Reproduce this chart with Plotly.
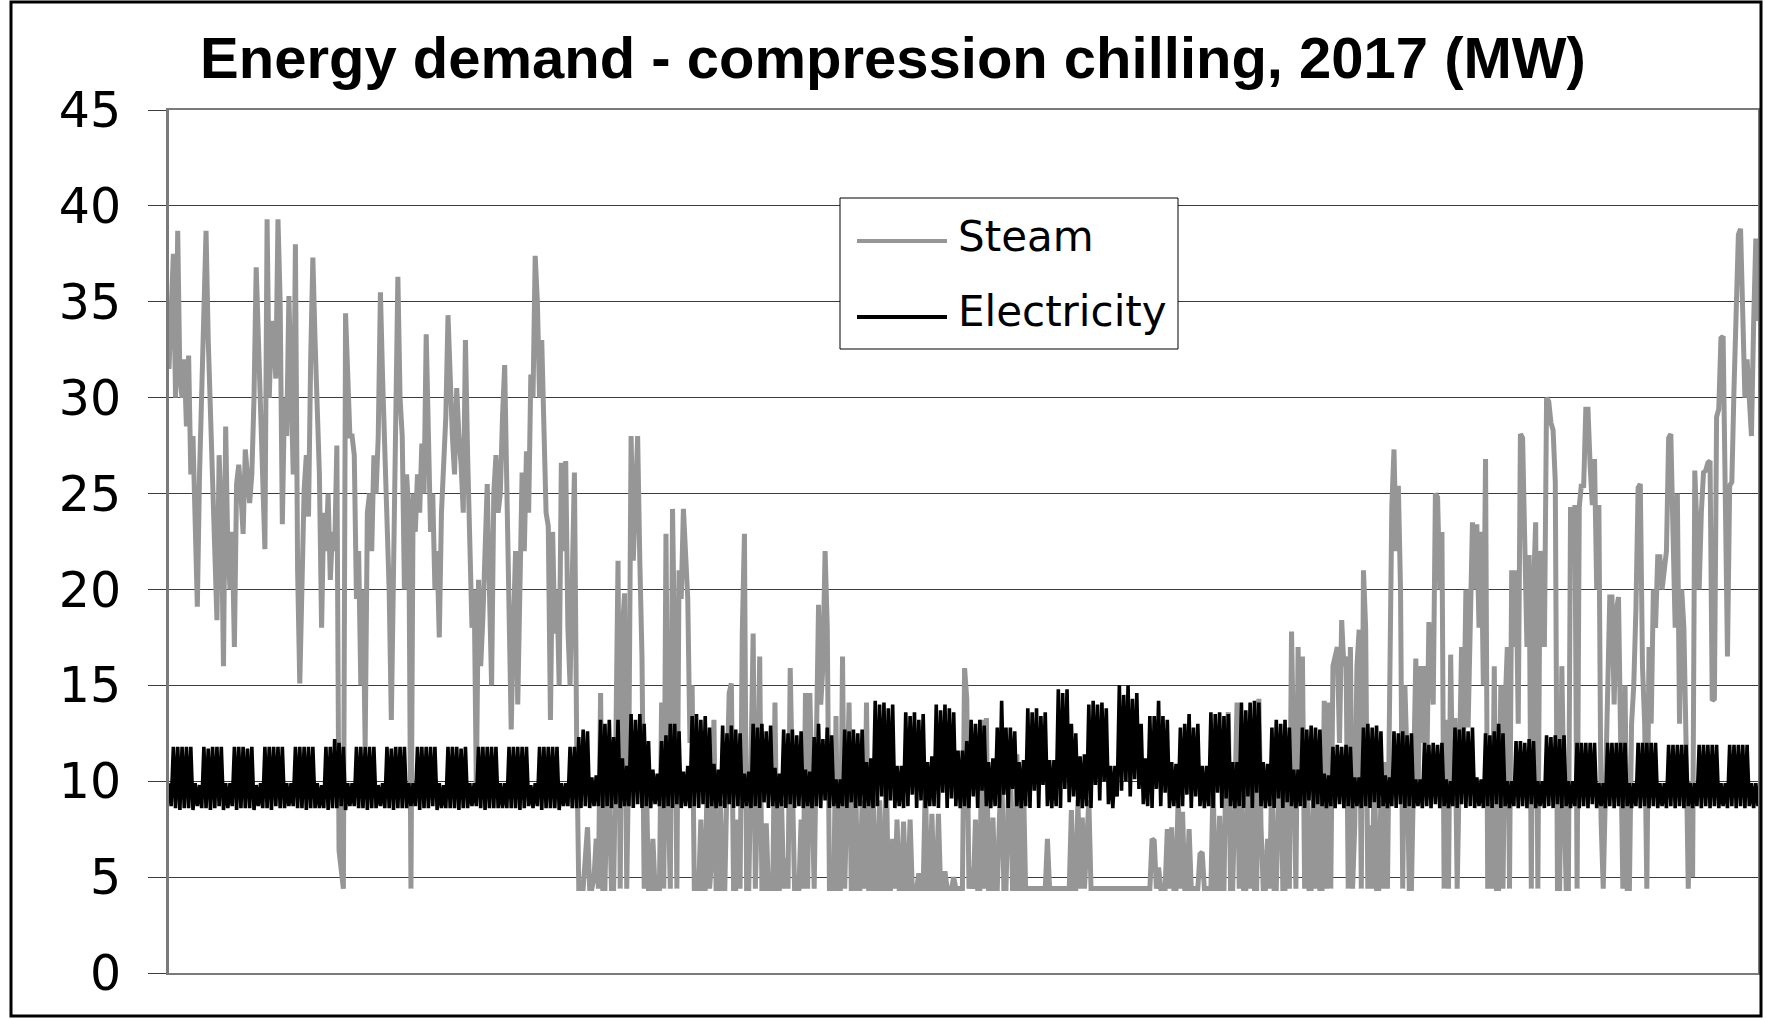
import plotly.graph_objects as go

# Half-daily samples (two per day), one line per week starting on Sunday 1 Jan 2017.
steam_q1 = [
    31.5, 35, 37.5, 30, 38.7, 31, 30, 32, 28.5, 32.2, 26, 28, 24.5, 19.1,
    26, 30.5, 33, 38.7, 33, 29, 25, 21, 18.4, 27, 24, 16, 28.5, 22,
    20, 23, 17, 25.5, 26.5, 25, 22.9, 27.3, 26, 24.5, 26, 30, 36.8, 33,
    30, 27, 22.1, 39.3, 30, 34, 33, 31, 39.3, 35, 23.4, 30, 28, 35.3,
    30, 26, 38, 21, 15.1, 22, 25.2, 27, 23.8, 32, 37.3, 33, 30, 26,
    18, 24, 22, 25, 20.5, 23, 22, 27.5, 6.4, 5.5, 4.4, 34.4, 30, 28,
    28, 27, 19.5, 22, 15, 20, 11.8, 24, 25, 22, 27, 25, 28, 35.5,
    31, 27, 25, 20, 13.2, 22, 29, 36.3, 30, 28, 20, 26, 24, 4.4,
    25, 23, 26, 24, 27.6, 25, 33.3, 28, 23, 25, 20, 22, 17.5, 24,
    26.5, 29, 34.3, 30, 28, 26, 30.5, 28, 26.5, 24, 33, 27, 21.5, 18,
    20, 9.6, 20.5, 16, 18.5, 22, 25.5, 20, 15, 25, 27, 24, 25, 29,
    31.7, 25.3, 20, 12.7, 18, 22, 14, 20, 26.1, 22, 27.2, 24, 31.2, 30,
    37.4, 35, 30, 33, 28, 24, 23.3, 13.2, 23, 17.7, 20, 15, 26.6, 22,
]
steam_q2 = [
    26.7, 18, 15, 20, 26.1, 12.5, 4.4, 4.4, 4.4, 6, 7.6, 4.4, 4.4, 5,
    7, 4.4, 14.6, 4.4, 4.4, 10, 9, 4.4, 4.4, 12, 21.5, 4.4, 17.9, 19.8,
    4.4, 12, 28, 21.5, 26, 28, 21.5, 16.5, 4.4, 10, 4.4, 4.4, 7, 4.4,
    4.4, 4.4, 14.1, 4.4, 22.9, 9, 4.4, 24.2, 16.5, 4.4, 21, 19.5, 24.2, 21,
    19.5, 12, 15, 4.4, 4.4, 4.4, 8, 4.4, 4.4, 11, 4.4, 6, 13.2, 4.4,
    4.4, 9, 4.4, 4.4, 10, 14.6, 15.1, 4.4, 4.4, 8, 4.4, 17.7, 22.9, 4.4,
    4.4, 10, 17.7, 4.4, 9, 16.5, 4.4, 4.4, 7.8, 4.4, 4.4, 4.4, 14.1, 4.4,
    4.4, 9, 4.4, 6, 4.4, 15.9, 10, 4.4, 4.4, 4.4, 8, 4.4, 14.6, 4.4,
    14.6, 9, 4.4, 12, 19.2, 14, 16, 22, 18, 4.4, 4.4, 4.4, 13.4, 4.4,
    4.4, 16.5, 4.4, 9, 14.1, 4.4, 4.4, 10, 4.4, 4.4, 9, 4.4, 14.1, 4.4,
    4.4, 10, 4.4, 4.4, 9, 4.4, 4.4, 11, 4.4, 4.4, 7, 4.4, 8, 4.4,
    4.4, 7.9, 4.4, 4.4, 8, 4.4, 4.4, 4.4, 5.2, 4.4, 4.4, 10, 4.4, 4.4,
    8.3, 4.4, 4.4, 8.3, 4.4, 4.4, 5.3, 4.4, 4.4, 4.4, 5, 4.4, 4.4, 4.4,
]
steam_q3 = [
    4.4, 15.9, 14.3, 4.4, 5.5, 4.4, 8, 4.4, 4.4, 13.2, 4.4, 13.3, 4.4, 4.4,
    8.1, 4.4, 4.4, 8.1, 11.3, 4.4, 4.4, 9, 10.5, 4.4, 4.4, 11.4, 4.4, 4.4,
    10, 4.4, 4.4, 4.4, 4.4, 4.4, 4.4, 4.4, 4.4, 4.4, 4.4, 7, 4.4, 4.4,
    4.4, 4.4, 4.4, 4.4, 4.4, 4.4, 4.4, 4.4, 8.5, 4.4, 4.4, 9, 4.4, 8.1,
    4.4, 7.6, 9, 4.4, 4.4, 4.4, 4.4, 4.4, 4.4, 4.4, 4.4, 4.4, 4.4, 4.4,
    4.4, 4.4, 4.4, 4.4, 4.4, 4.4, 4.4, 4.4, 4.4, 4.4, 4.4, 4.4, 4.4, 4.4,
    4.4, 4.4, 4.4, 7, 6.9, 4.4, 5.5, 4.4, 4.4, 4.4, 7.5, 4.4, 7.6, 4.4,
    4.4, 9.3, 4.4, 8.4, 4.4, 4.4, 7.5, 4.4, 4.4, 4.4, 4.4, 6.2, 6.3, 4.4,
    4.4, 4.4, 4.4, 10, 4.4, 4.4, 8.2, 4.4, 4.4, 12, 13.6, 4.4, 4.4, 9,
    14.1, 4.4, 11, 4.4, 4.4, 10, 4.4, 12.5, 4.4, 4.4, 14.3, 7.6, 4.4, 4.4,
    7, 4.4, 10.9, 4.4, 4.4, 9, 12, 4.4, 4.4, 10.9, 4.4, 17.8, 12, 4.4,
    17, 10, 16.5, 4.4, 12, 4.4, 4.4, 9, 4.4, 10, 4.4, 4.4, 14.2, 4.4,
    14.1, 4.4, 16, 16.5, 17, 12, 18.4, 16, 16.5, 4.4, 17, 4.4, 7.7, 16,
]
steam_q4 = [
    17.9, 4.4, 21, 18, 4.4, 7.7, 4.4, 11, 4.4, 4.4, 9, 4.4, 11, 4.4,
    16, 24.3, 27.3, 22, 25.4, 20, 4.4, 15, 11, 4.4, 4.4, 12, 16.4, 9,
    16, 12, 16, 10, 18.3, 16, 14, 25, 24.8, 20, 23, 4.4, 13.2, 4.4,
    16.6, 9, 13.3, 4.4, 12, 17, 12.7, 20, 12.8, 17.1, 23.5, 20, 23.4, 18,
    23, 15, 26.8, 4.4, 10, 4.4, 16, 4.4, 4.4, 15, 4.4, 14, 17, 4.4,
    21, 17, 21, 13, 28.1, 27.9, 22, 17, 21.8, 4.4, 20, 23.5, 4.4, 22,
    21, 17, 30, 29.8, 28.7, 28.3, 25.6, 4.4, 4.4, 16, 9, 4.4, 4.4, 24.3,
    22, 24.4, 4.4, 24.3, 25.5, 25.3, 29.4, 29.4, 26.4, 24.4, 26.8, 20, 24.4, 8,
    4.4, 10, 15, 19.6, 19.6, 14, 18.9, 19.6, 12, 4.4, 15, 4.4, 4.4, 13,
    15, 19, 25.3, 25.5, 16, 13, 4.4, 17, 13, 20, 18, 21.7, 21.7, 20,
    21, 22, 27.9, 28.1, 23, 18, 25, 13, 20, 18, 12, 4.4, 10, 5,
    26.2, 22, 20, 24, 26.1, 26.2, 26.6, 26.7, 14.2, 14.3, 29, 29.4, 33.1, 33.2,
    22, 16.5, 25.4, 25.6, 30.5, 33.7, 38.5, 38.8, 33.5, 30, 32, 29.5, 28, 33.9,
    38.3, 34,
]

# Electricity: daytime peak then night-time low for each day.
elec_q1 = [
    9.9, 8.7, 11.8, 8.6, 11.8, 8.5, 11.8, 8.6, 11.8, 8.6, 11.8, 8.5, 9.9, 8.7,
    9.8, 8.6, 11.8, 8.6, 11.7, 8.5, 11.8, 8.6, 11.8, 8.7, 11.8, 8.5, 9.9, 8.6,
    9.9, 8.7, 11.8, 8.5, 11.8, 8.6, 11.8, 8.6, 11.7, 8.6, 11.8, 8.5, 9.8, 8.7,
    9.9, 8.6, 11.8, 8.6, 11.8, 8.5, 11.8, 8.7, 11.8, 8.6, 11.8, 8.6, 9.9, 8.7,
    9.9, 8.7, 11.8, 8.6, 11.8, 8.6, 11.8, 8.5, 11.8, 8.6, 11.8, 8.6, 9.9, 8.6,
    9.8, 8.6, 11.8, 8.5, 11.8, 8.6, 12.2, 8.6, 12.0, 8.7, 11.8, 8.5, 9.9, 8.7,
    9.9, 8.7, 11.8, 8.6, 11.8, 8.6, 11.8, 8.5, 11.8, 8.6, 11.8, 8.6, 9.8, 8.7,
    9.9, 8.6, 11.8, 8.6, 11.7, 8.5, 11.8, 8.6, 11.8, 8.6, 11.8, 8.6, 9.9, 8.7,
    9.9, 8.7, 11.8, 8.5, 11.8, 8.6, 11.8, 8.6, 11.8, 8.7, 11.8, 8.5, 9.9, 8.6,
    9.8, 8.6, 11.8, 8.6, 11.8, 8.6, 11.8, 8.5, 11.7, 8.6, 11.8, 8.6, 9.9, 8.7,
    9.9, 8.7, 11.8, 8.6, 11.8, 8.5, 11.8, 8.6, 11.8, 8.6, 11.8, 8.6, 9.9, 8.6,
    9.9, 8.6, 11.8, 8.6, 11.8, 8.6, 11.8, 8.5, 11.8, 8.6, 11.8, 8.7, 9.8, 8.6,
    9.9, 8.7, 11.8, 8.5, 11.8, 8.6, 11.8, 8.6, 11.8, 8.6, 11.8, 8.5, 9.9, 8.7,
]
elec_q2 = [
    9.9, 8.7, 11.8, 8.6, 11.8, 8.6, 12.3, 8.6, 12.7, 8.7, 12.6, 8.6, 10.2, 8.7,
    10.3, 8.7, 13.2, 8.6, 13.0, 8.7, 13.2, 8.6, 12.3, 8.8, 13.2, 8.6, 11.2, 8.7,
    10.8, 8.7, 13.5, 8.6, 13.2, 8.8, 13.5, 8.6, 13.0, 8.7, 12.1, 8.6, 10.6, 8.8,
    10.4, 8.7, 12.1, 8.6, 12.4, 8.7, 13.0, 8.6, 13.0, 8.8, 12.6, 8.6, 10.5, 8.7,
    10.8, 8.6, 13.4, 8.7, 13.5, 8.6, 13.2, 8.8, 13.4, 8.6, 12.8, 8.7, 10.9, 8.6,
    10.6, 8.7, 12.9, 8.6, 12.5, 8.8, 12.9, 8.6, 12.7, 8.7, 12.5, 8.6, 10.4, 8.7,
    10.5, 8.6, 13.0, 8.7, 12.8, 8.6, 13.0, 8.9, 12.6, 8.6, 12.9, 8.7, 10.7, 8.6,
    10.4, 8.7, 12.7, 8.6, 12.5, 8.8, 12.7, 8.6, 12.4, 8.7, 12.6, 8.6, 10.6, 8.7,
    10.5, 8.6, 12.3, 8.7, 13.0, 8.6, 12.2, 9.0, 12.8, 8.6, 12.4, 8.7, 10.1, 8.6,
    10.1, 8.7, 12.7, 8.6, 12.6, 8.9, 12.7, 8.6, 12.5, 8.7, 12.7, 8.6, 11.0, 8.7,
    11.2, 8.6, 14.2, 8.7, 14.0, 9.2, 14.1, 8.6, 13.8, 9.0, 14.0, 8.6, 10.8, 8.7,
    10.8, 8.6, 13.6, 8.7, 13.4, 9.3, 13.6, 8.6, 13.2, 9.0, 13.5, 8.6, 11.0, 8.7,
    11.3, 8.7, 14.0, 8.6, 13.7, 9.4, 14.0, 8.6, 13.8, 9.1, 13.6, 8.7, 11.6, 8.6,
]
elec_q3 = [
    11.6, 8.7, 12.1, 8.6, 13.2, 9.2, 13.0, 8.6, 13.2, 9.5, 12.9, 8.7, 11.0, 8.6,
    11.2, 8.7, 12.8, 8.6, 14.2, 9.3, 12.8, 8.6, 12.8, 9.6, 12.6, 8.7, 11.0, 8.6,
    11.1, 8.7, 13.8, 8.6, 13.6, 9.5, 13.8, 8.6, 13.4, 9.8, 13.6, 8.7, 11.1, 8.6,
    11.1, 8.7, 14.8, 8.6, 14.6, 9.6, 14.8, 8.9, 13.0, 9.2, 12.5, 8.7, 11.3, 8.6,
    11.4, 8.7, 14.0, 8.6, 14.2, 9.8, 14.0, 9.0, 14.1, 10.0, 13.8, 8.8, 10.8, 8.6,
    10.8, 9.2, 15.0, 9.5, 14.5, 10.0, 15.0, 9.2, 14.3, 10.1, 14.6, 9.6, 13.0, 8.8,
    11.2, 8.7, 13.4, 8.6, 13.4, 9.6, 14.2, 8.7, 13.4, 9.4, 13.2, 8.6, 11.0, 8.7,
    10.9, 8.6, 12.8, 8.7, 13.0, 9.3, 13.5, 8.6, 12.8, 9.2, 13.0, 8.7, 10.8, 8.6,
    10.8, 8.7, 13.6, 8.6, 13.5, 9.4, 13.6, 8.6, 13.4, 9.1, 13.5, 8.7, 11.0, 8.6,
    11.0, 8.7, 14.1, 8.6, 13.7, 9.2, 14.1, 8.6, 14.2, 9.4, 14.1, 8.7, 11.0, 8.6,
    10.9, 8.7, 12.8, 8.6, 13.2, 9.1, 13.0, 8.6, 13.2, 8.9, 12.8, 8.7, 10.6, 8.6,
    10.6, 8.7, 12.8, 8.6, 12.7, 9.0, 12.9, 8.6, 12.8, 8.8, 12.7, 8.7, 10.4, 8.6,
    10.3, 8.7, 11.8, 8.6, 11.9, 8.8, 11.8, 8.6, 11.9, 8.7, 11.8, 8.6, 10.2, 8.7,
]
elec_q4 = [
    10.2, 8.6, 12.8, 8.7, 13.0, 8.6, 12.8, 8.9, 12.9, 8.6, 12.6, 8.7, 10.3, 8.6,
    10.2, 8.7, 12.6, 8.6, 12.5, 8.8, 12.6, 8.6, 12.4, 8.7, 12.5, 8.6, 10.1, 8.7,
    10.1, 8.6, 12.0, 8.7, 11.9, 8.6, 12.0, 8.8, 11.9, 8.6, 12.0, 8.7, 10.1, 8.6,
    10.0, 8.7, 12.8, 8.6, 12.7, 8.8, 12.8, 8.6, 12.6, 8.7, 12.8, 8.6, 10.2, 8.7,
    10.1, 8.6, 12.5, 8.7, 12.4, 8.6, 12.6, 8.8, 13.0, 8.6, 12.5, 8.7, 10.0, 8.6,
    10.0, 8.7, 12.1, 8.6, 12.1, 8.7, 12.0, 8.6, 12.2, 8.8, 12.1, 8.6, 10.0, 8.7,
    10.0, 8.6, 12.4, 8.7, 12.3, 8.6, 12.4, 8.8, 12.2, 8.6, 12.4, 8.7, 10.0, 8.6,
    10.0, 8.7, 12.0, 8.6, 12.0, 8.7, 12.0, 8.6, 12.0, 8.8, 12.0, 8.6, 9.9, 8.7,
    9.9, 8.6, 12.0, 8.7, 12.0, 8.6, 12.0, 8.7, 12.0, 8.6, 12.0, 8.7, 9.9, 8.6,
    9.9, 8.7, 12.0, 8.6, 12.0, 8.7, 12.0, 8.6, 12.0, 8.7, 12.0, 8.6, 9.9, 8.7,
    9.9, 8.6, 11.9, 8.7, 11.9, 8.6, 11.9, 8.7, 11.9, 8.6, 11.9, 8.7, 9.9, 8.6,
    9.9, 8.7, 11.9, 8.6, 11.9, 8.7, 11.9, 8.6, 11.9, 8.7, 11.9, 8.6, 9.9, 8.7,
    9.9, 8.6, 11.9, 8.7, 11.9, 8.6, 11.9, 8.7, 11.9, 8.6, 11.9, 8.7, 9.9, 8.6,
    9.9, 8.7,
]

series_names = ["Steam", "Electricity"]
series_colors = ["#969696", "#000000"]
y_ticks = [0, 5, 10, 15, 20, 25, 30, 35, 40, 45]
title_text = "Energy demand - compression chilling, 2017 (MW)"

steam = steam_q1 + steam_q2 + steam_q3 + steam_q4
electricity = elec_q1 + elec_q2 + elec_q3 + elec_q4
steam_days = [i / 2 for i in range(len(steam))]
elec_days = [i / 2 for i in range(len(electricity))]

fig = go.Figure()
fig.add_trace(go.Scatter(x=steam_days, y=steam, mode="lines", name=series_names[0],
                         line=dict(color=series_colors[0], width=5), showlegend=False))
fig.add_trace(go.Scatter(x=elec_days, y=electricity, mode="lines", name=series_names[1],
                         line=dict(color=series_colors[1], width=3.6), showlegend=False))

# plot area in pixels
W, H = 1766, 1019
L, R, T, B = 169, 8, 110, 46
pw, ph = W - L - R, H - T - B


def px(xp):
    return (xp - L) / pw


def py(yp):
    return (H - B - yp) / ph


shapes = [
    # outer frame
    dict(type="rect", xref="paper", yref="paper", x0=px(11), x1=px(1761), y0=py(1016), y1=py(2),
         line=dict(color="black", width=3), layer="above"),
    # legend box
    dict(type="rect", xref="paper", yref="paper", x0=px(840), x1=px(1178), y0=py(349), y1=py(198),
         fillcolor="white", line=dict(color="black", width=1), layer="above"),
    dict(type="line", xref="paper", yref="paper", x0=px(857), x1=px(947), y0=py(241), y1=py(241),
         line=dict(color=series_colors[0], width=4), layer="above"),
    dict(type="line", xref="paper", yref="paper", x0=px(857), x1=px(947), y0=py(317), y1=py(317),
         line=dict(color=series_colors[1], width=4), layer="above"),
]
annotations = [
    dict(text=series_names[0], xref="paper", yref="paper", x=px(956), y=py(237), xanchor="left",
         yanchor="middle", showarrow=False, font=dict(family="DejaVu Sans", size=42, color="black")),
    dict(text=series_names[1], xref="paper", yref="paper", x=px(956), y=py(311), xanchor="left",
         yanchor="middle", showarrow=False, font=dict(family="DejaVu Sans", size=42, color="black")),
]

fig.update_layout(
    width=W, height=H,
    margin=dict(l=L, r=R, t=T, b=B, autoexpand=False),
    paper_bgcolor="white", plot_bgcolor="white",
    title=dict(text="<b>" + title_text + "</b>", x=893 / W, xref="container", xanchor="center",
               y=1 - 58 / H, yref="container", yanchor="middle",
               font=dict(family="Liberation Sans", size=58, color="black")),
    shapes=shapes, annotations=annotations,
    showlegend=False,
)
fig.update_xaxes(range=[0, 364.5], showticklabels=False, showgrid=False, zeroline=False,
                 ticks="", showline=True, mirror=True, linecolor="#7a7a7a", linewidth=2)
fig.update_yaxes(range=[0, 45], tickvals=y_ticks, showgrid=True, gridcolor="#3c3c3c", gridwidth=1,
                 zeroline=False, ticks="outside", ticklen=18, tickcolor="#3c3c3c", tickwidth=1,
                 ticklabelstandoff=17,
                 tickfont=dict(family="DejaVu Sans", size=49, color="black"),
                 showline=True, mirror=True, linecolor="#7a7a7a", linewidth=3)

fig.write_html("out.html")
